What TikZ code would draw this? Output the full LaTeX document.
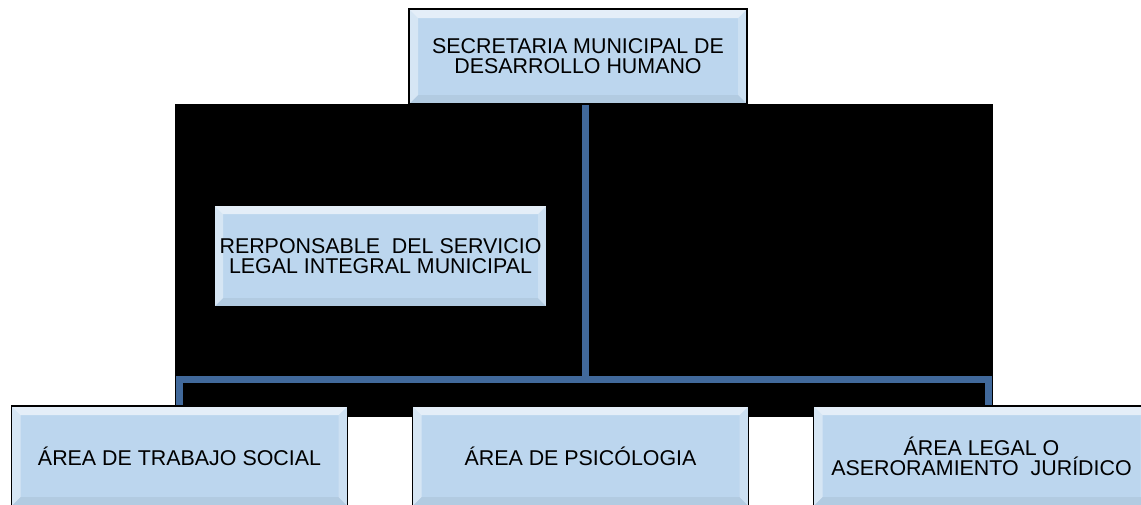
\documentclass[tikz,border=0pt]{standalone}
\usepackage{fontspec}
\setmainfont{Liberation Sans}
\usepackage{tikz}
\usetikzlibrary{backgrounds}
\definecolor{boxcolor}{HTML}{BCD6EE}
\definecolor{linecolor}{HTML}{41699B}

\begin{document}
\begin{tikzpicture}[x=1pt,y=-1pt,
  bevel/.style={path picture={
    \path (path picture bounding box.north west) coordinate (bnw)
          (path picture bounding box.north east) coordinate (bne)
          (path picture bounding box.south west) coordinate (bsw)
          (path picture bounding box.south east) coordinate (bse);
    \fill[white,opacity=0.6] (bnw) -- (bne) -- ([shift={(-9pt,-9pt)}]bne) -- ([shift={(9pt,-9pt)}]bnw) -- cycle;
    \fill[white,opacity=0.4] (bnw) -- ([shift={(9pt,-9pt)}]bnw) -- ([shift={(9pt,9pt)}]bsw) -- (bsw) -- cycle;
    \fill[white,opacity=0.25] (bne) -- (bse) -- ([shift={(-9pt,9pt)}]bse) -- ([shift={(-9pt,-9pt)}]bne) -- cycle;
    \fill[black,opacity=0.05] (bsw) -- ([shift={(9pt,9pt)}]bsw) -- ([shift={(-9pt,9pt)}]bse) -- (bse) -- cycle;
  }},
  box/.style={draw=black,line width=1.6pt,fill=boxcolor,inner sep=0pt,align=center,
    font=\fontsize{21.4}{20}\selectfont,bevel},
  conn/.style={linecolor,line width=7pt}]
\useasboundingbox (0,0) rectangle (1141,504);
\clip (0,0) rectangle (1141,504);
%% boxes
\node[box,minimum width=338pt,minimum height=95pt] (secretaria) at (578,56.5)
  {SECRETARIA MUNICIPAL DE\\DESARROLLO HUMANO};
\node[box,minimum width=333pt,minimum height=102pt] (responsable) at (380.5,256)
  {RERPONSABLE\ \ DEL SERVICIO\\LEGAL INTEGRAL MUNICIPAL};
\foreach \name/\cx/\txt in {trabajo/179.5/{ÁREA DE TRABAJO SOCIAL},
    psicologia/580.5/{ÁREA DE PSICÓLOGIA},
    legal/981.5/{ÁREA LEGAL O\\ASERORAMIENTO\ \ JURÍDICO}}
  \node[box,minimum width=336pt,minimum height=100pt] (\name) at (\cx,456) {\txt};
%% black panel and connectors
\begin{scope}[on background layer]
  \fill[black] (175,104) rectangle (993,417);
  \coordinate (hub) at (585,379);
  \draw[conn] (secretaria.south -| hub) -- (hub);
  \draw[conn] (hub) -| (trabajo.north);
  \draw[conn] (hub) -| ([xshift=7pt]legal.north);
\end{scope}
\end{tikzpicture}
\end{document}
